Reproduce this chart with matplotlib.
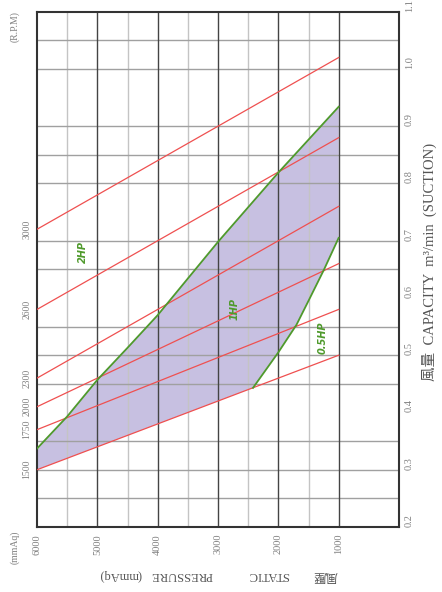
import numpy as np
import matplotlib
matplotlib.use("Agg")
import matplotlib.pyplot as plt
import matplotlib.transforms as mtransforms

# ---- data ----
pressure_ticks = [6000, 5000, 4000, 3000, 2000, 1000]
capacity_ticks = [0.2, 0.3, 0.4, 0.5, 0.6, 0.7, 0.8, 0.9, 1.0, 1.1]
capacity_tick_labels = ["0.2", "0.3", "0.4", "0.5", "0.6", "0.7", "0.8", "0.9", "1.0", "1.1"]

rpm_labels = ["1500", "1750", "2000", "2300", "2600", "3000"]
rpm_line_pressure = [6000, 1000]
rpm_cap_at_6000 = [0.30, 0.37, 0.41, 0.46, 0.58, 0.72]
rpm_cap_at_1000 = [0.50, 0.58, 0.66, 0.76, 0.88, 1.02]

hp2_pressure = [6000, 5500, 5000, 4500, 4000, 3000, 2000, 1000]
hp2_capacity = [0.337, 0.393, 0.457, 0.513, 0.570, 0.698, 0.819, 0.934]

hp05_pressure = [2420, 2000, 1700, 1500, 1250, 1000]
hp05_capacity = [0.443, 0.505, 0.553, 0.595, 0.648, 0.705]

hp_labels = ["2HP", "1HP", "0.5HP"]
hp_label_pressure = [5240, 2720, 1260]
hp_label_capacity = [0.68, 0.58, 0.53]

major_vgrid = [5000, 4000, 3000, 2000, 1000]
minor_vgrid = [5500, 4500, 3500, 2500, 1500]
hgrid = [0.25, 0.3, 0.35, 0.45, 0.5, 0.55, 0.65, 0.7, 0.8, 0.85, 0.9, 1.0, 1.05]

xtitle_words = ["風壓", "STATIC", "PRESSURE", "(mmAq)"]
ytitle = "風量  CAPACITY  m³/min  (SUCTION)"

# ---- figure ----
fig = plt.figure(figsize=(4.42, 5.92), dpi=100)
L, R = 37 / 442, 399 / 442
B, T = 1 - 527 / 592, 1 - 11.7 / 592
ax = fig.add_axes([L, B, R - L, T - B])
ax.set_xlim(6000, 0)
ax.set_ylim(0.2, 1.1)

for v in minor_vgrid:
    ax.axvline(v, color="#c4c4c4", lw=1.0, zorder=1)
for v in major_vgrid:
    ax.axvline(v, color="#444444", lw=1.0, zorder=1.1)
for h in hgrid:
    ax.axhline(h, color="#a0a0a0", lw=1.0, zorder=1)

# shaded operating region
lower_p = [2420, 6000]
lower_c = list(np.interp(lower_p, rpm_line_pressure[::-1],
                         [rpm_cap_at_1000[0], rpm_cap_at_6000[0]]))
poly_p = list(hp2_pressure) + list(hp05_pressure[::-1]) + lower_p
poly_c = list(hp2_capacity) + list(hp05_capacity[::-1]) + lower_c
ax.fill(poly_p, poly_c, color="#c7c0e1", zorder=0.5, lw=0)

# rpm lines
for lab, c6, c1 in zip(rpm_labels, rpm_cap_at_6000, rpm_cap_at_1000):
    ax.plot(rpm_line_pressure, [c6, c1], color="#ef5050", lw=0.9, zorder=3)
    ax.text(6000 + 165, c6, lab, rotation=90, ha="center", va="center",
            fontsize=7, color="#808080", family="Liberation Serif", clip_on=False)

# hp curves
ax.plot(hp2_pressure, hp2_capacity, color="#4f9a2c", lw=1.3, zorder=4)
ax.plot(hp05_pressure, hp05_capacity, color="#4f9a2c", lw=1.3, zorder=4)
for lab, p, c in zip(hp_labels, hp_label_pressure, hp_label_capacity):
    ax.text(p, c, lab, rotation=90, ha="center", va="center", fontsize=7,
            color="#4f9a2c", fontweight="bold", fontstyle="italic", zorder=5)

for s in ax.spines.values():
    s.set_color("#333333")
    s.set_linewidth(1.5)

ax.set_xticks(pressure_ticks)
ax.set_xticklabels([str(p) for p in pressure_ticks], rotation=90,
                   family="Liberation Serif", fontsize=7.5, color="#808080")
ax.tick_params(axis="x", length=0, pad=5)
ax.set_yticks([])

# capacity labels on the right (start at the tick, reading upward)
ytrans = ax.get_yaxis_transform() + mtransforms.ScaledTranslation(6 / 100, 0, fig.dpi_scale_trans)
for v, lab in zip(capacity_ticks, capacity_tick_labels):
    ax.text(1.0, v, lab, transform=ytrans, rotation=90,
            ha="left", va="bottom", fontsize=7.5, color="#808080",
            family="Liberation Serif", clip_on=False)

cjk = ["Liberation Serif", "Noto Sans CJK TC"]
word_x = [325, 268, 182, 120]
for w, xp in zip(xtitle_words, word_x):
    fig.text(xp / 442, 1 - 575 / 592, w, rotation=180, ha="center", va="center",
             fontsize=9, color="#555555", family=cjk)
fig.text(429 / 442, 1 - 262 / 592, ytitle, rotation=90,
         ha="center", va="center", fontsize=10.5, color="#555555", family=cjk)
fig.text(15 / 442, 1 - 27 / 592, "(R.P.M)", rotation=90, ha="center", va="center",
         fontsize=7, color="#808080", family="Liberation Serif")
fig.text(15 / 442, 1 - 547 / 592, "(mmAq)", rotation=90, ha="center", va="center",
         fontsize=7, color="#808080", family="Liberation Serif")

fig.savefig("out.png", dpi=100)
